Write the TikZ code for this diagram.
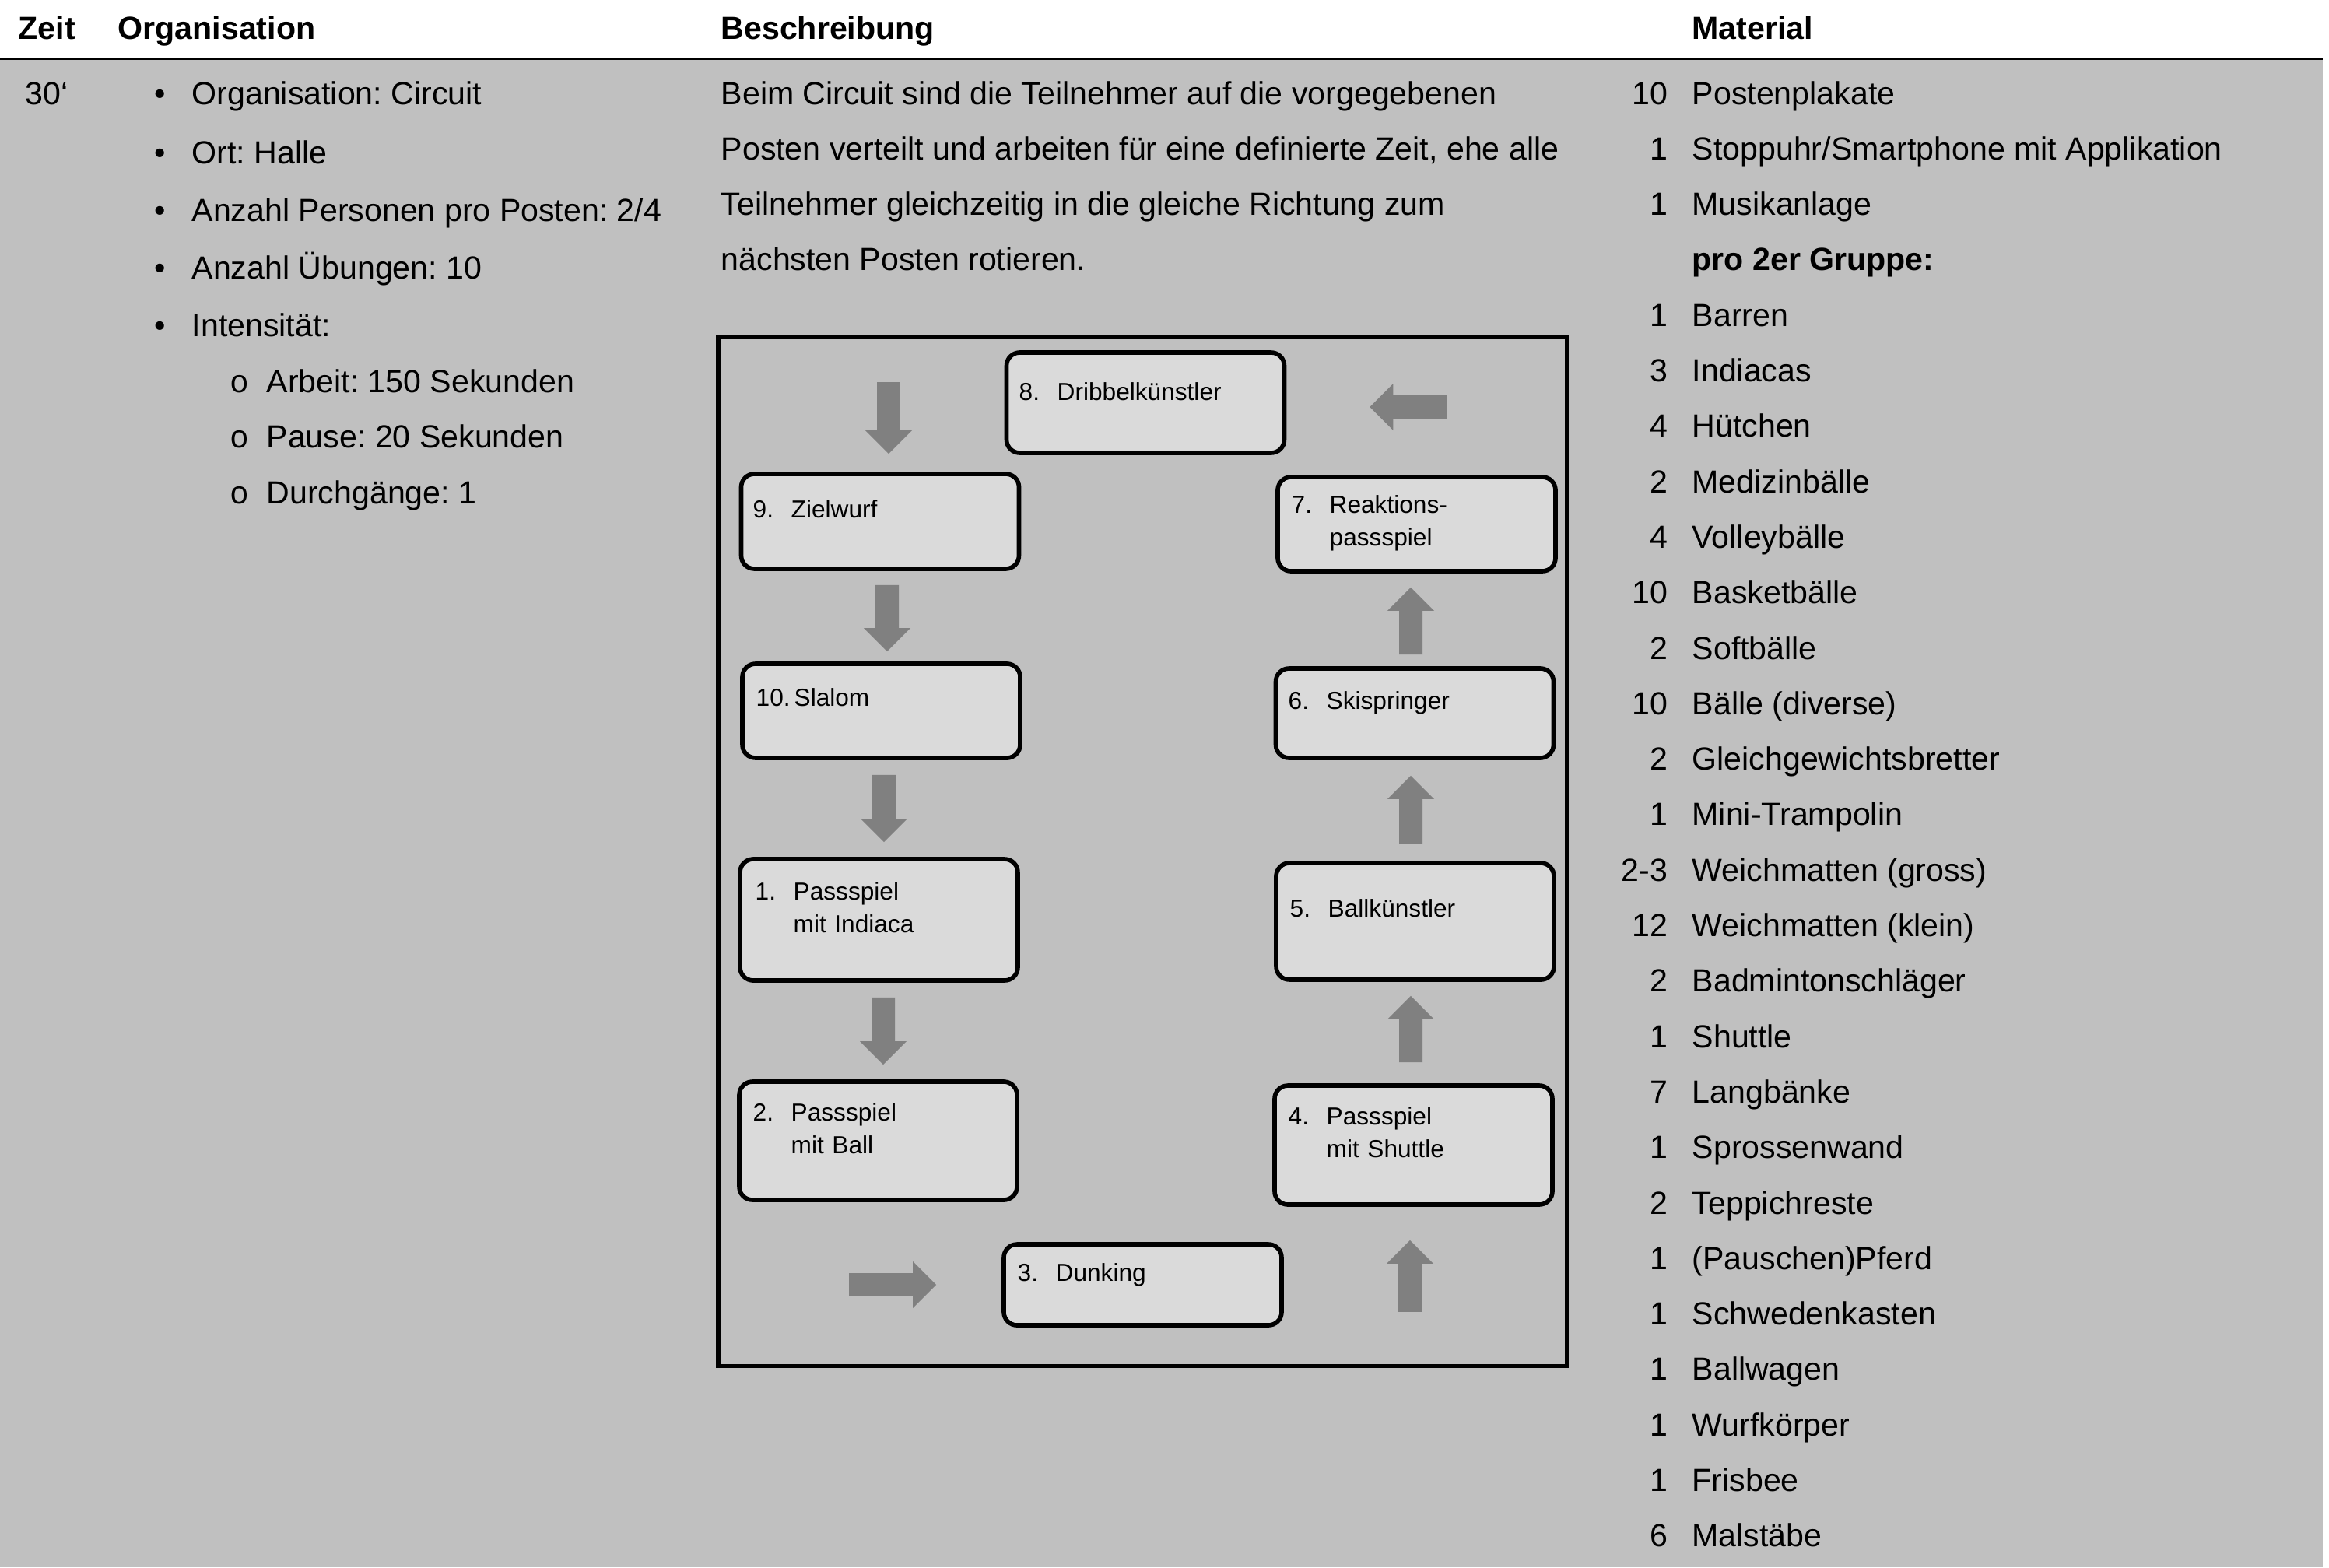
\documentclass[tikz,border=0pt]{standalone}
\usepackage{fontspec}
\setmainfont{Liberation Sans}
\newfontfamily\ringfont{Liberation Mono}
\usetikzlibrary{arrows.meta}
\usepackage{xcolor}
\definecolor{rowgray}{HTML}{C0C0C0}
\definecolor{boxgray}{HTML}{DADADA}
\definecolor{arrowgray}{HTML}{808080}
\newcommand{\stnnum}[1]{\makebox[0.49cm][l]{#1}}
\frenchspacing

\begin{document}
\begin{tikzpicture}[
  txt/.style={anchor=base west, inner sep=0pt, font=\fontsize{11.7}{14}\selectfont},
  head/.style={txt, font=\fontsize{11.7}{14}\selectfont\bfseries},
  station/.style={draw, line width=1.6pt, fill=boxgray, rounded corners=1.7mm, inner sep=0pt, minimum width=3.57cm},
  stext/.style={anchor=base west, inner sep=0pt, text width=3.2cm, align=left, font=\fontsize{9}{11.95}\selectfont},
  flow/.style={arrowgray, line width=3mm, -{Triangle[length=3mm, width=6mm, line width=0pt]}}
]
\useasboundingbox (0,0) rectangle (29.93,-20.14);
\fill[rowgray] (0,-0.77) rectangle (29.85,-20.14);
\draw[line width=0.85pt] (0,-0.755) -- (29.85,-0.755);

% header row
\node[head] (h-zeit)  at (0.23,-0.50)  {Zeit};
\node[head] (h-org)   at (1.51,-0.50)  {Organisation};
\node[head] (h-besch) at (9.26,-0.50)  {Beschreibung};
\node[head] (h-mat)   at (21.74,-0.50) {Material};

\node[txt] (zeit) at (0.32,-1.34) {30‘};

% Organisation
\foreach \t/\y [count=\i] in {Organisation: Circuit/1.34, Ort: Halle/2.10,
    {Anzahl Personen pro Posten: 2/4}/2.84, Anzahl Übungen: 10/3.58, Intensität:/4.32} {
  \node[txt] (dot-\i) at (1.98,-\y) {\textbullet};
  \node[txt] (org-\i) at (2.46,-\y) {\t};
}
\foreach \t/\y [count=\i] in {Arbeit: 150 Sekunden/5.04, Pause: 20 Sekunden/5.75, Durchgänge: 1/6.47} {
  \node[txt] (circ-\i) at (2.95,-\y) {\ringfont o};
  \node[txt] (sub-\i)  at (3.42,-\y) {\t};
}

% Beschreibung
\foreach \t [count=\i from 0] in {Beim Circuit sind die Teilnehmer auf die vorgegebenen,
    {Posten verteilt und arbeiten für eine definierte Zeit, ehe alle},
    Teilnehmer gleichzeitig in die gleiche Richtung zum, nächsten Posten rotieren.}
  \node[txt] (desc-\i) at (9.26,{-1.34-0.713*\i}) {\t};

% Material
\foreach \n/\t [count=\i from 0] in {10/Postenplakate, 1/{Stoppuhr/Smartphone mit Applikation},
    1/Musikanlage, /\textbf{pro 2er Gruppe:}, 1/Barren, 3/Indiacas, 4/Hütchen, 2/Medizinbälle,
    4/Volleybälle, 10/Basketbälle, 2/Softbälle, 10/Bälle (diverse), 2/Gleichgewichtsbretter,
    1/Mini-Trampolin, 2-3/Weichmatten (gross), 12/Weichmatten (klein), 2/Badmintonschläger,
    1/Shuttle, 7/Langbänke, 1/Sprossenwand, 2/Teppichreste, 1/(Pauschen)Pferd,
    1/Schwedenkasten, 1/Ballwagen, 1/Wurfkörper, 1/Frisbee, 6/Malstäbe} {
  \node[txt, anchor=base east] (qty-\i) at (21.44,{-1.34-0.713*\i}) {\n};
  \node[txt] (mat-\i) at (21.74,{-1.34-0.713*\i}) {\t};
}

% circuit field
\draw[line width=1.45pt] (9.23,-4.335) rectangle (20.135,-17.555);

\node[station, minimum height=1.29cm] (s8)  at (14.72,-5.175)  {};
\node[station, minimum height=1.22cm] (s9)  at (11.31,-6.70)   {};
\node[station, minimum height=1.21cm] (s7)  at (18.205,-6.735) {};
\node[station, minimum height=1.21cm] (s10) at (11.325,-9.135) {};
\node[station, minimum height=1.15cm] (s6)  at (18.18,-9.165)  {};
\node[station, minimum height=1.56cm] (s1)  at (11.295,-11.82) {};
\node[station, minimum height=1.50cm] (s5)  at (18.185,-11.84) {};
\node[station, minimum height=1.52cm] (s2)  at (11.285,-14.66) {};
\node[station, minimum height=1.53cm] (s4)  at (18.165,-14.715){};
\node[station, minimum height=1.04cm] (s3)  at (14.685,-16.51) {};

\node[stext] (t8)  at (13.09,-5.14)  {\stnnum{8.}Dribbelkünstler};
\node[stext] (t9)  at (9.67,-6.65)   {\stnnum{9.}Zielwurf};
\node[stext] (t7)  at (16.59,-6.59)  {\stnnum{7.}Reaktions-\\\hspace*{0.49cm}passspiel};
\node[stext] (t10) at (9.71,-9.07)   {\stnnum{10.}Slalom};
\node[stext] (t6)  at (16.55,-9.11)  {\stnnum{6.}Skispringer};
\node[stext] (t1)  at (9.70,-11.56)  {\stnnum{1.}Passspiel\\\hspace*{0.49cm}mit Indiaca};
\node[stext] (t5)  at (16.57,-11.78) {\stnnum{5.}Ballkünstler};
\node[stext] (t2)  at (9.67,-14.40)  {\stnnum{2.}Passspiel\\\hspace*{0.49cm}mit Ball};
\node[stext] (t4)  at (16.55,-14.45) {\stnnum{4.}Passspiel\\\hspace*{0.49cm}mit Shuttle};
\node[stext] (t3)  at (13.07,-16.46) {\stnnum{3.}Dunking};

% rotation
\draw[flow] ([xshift=1.1mm,yshift=11.5mm]s9.north) -- ([xshift=1.1mm,yshift=2.3mm]s9.north);
\draw[flow] ([xshift=0.9mm,yshift=-1.8mm]s9.south) -- ([xshift=0.75mm,yshift=1.3mm]s10.north);
\draw[flow] ([xshift=0.35mm,yshift=-1.9mm]s10.south) -- ([xshift=0.65mm,yshift=1.9mm]s1.north);
\draw[flow] ([xshift=0.55mm,yshift=-1.9mm]s1.south) -- ([xshift=0.65mm,yshift=1.9mm]s2.north);
\draw[flow] ([xshift=-19.6mm]s3.west) -- ([xshift=-8.4mm]s3.west);
\draw[flow] ([xshift=-0.45mm,yshift=-13.5mm]s4.south) -- ([xshift=-0.45mm,yshift=-4.3mm]s4.south);
\draw[flow] ([xshift=-0.35mm,yshift=2.7mm]s4.north) -- ([xshift=-0.55mm,yshift=-1.8mm]s5.south);
\draw[flow] ([xshift=-0.55mm,yshift=2.2mm]s5.north) -- ([xshift=-0.5mm,yshift=-2mm]s6.south);
\draw[flow] ([xshift=-0.5mm,yshift=1.5mm]s6.north) -- ([xshift=-0.75mm,yshift=-1.8mm]s7.south);
\draw[flow] ([xshift=20.6mm,yshift=-0.55mm]s8.east) -- ([xshift=10.7mm,yshift=-0.55mm]s8.east);
\end{tikzpicture}
\end{document}
